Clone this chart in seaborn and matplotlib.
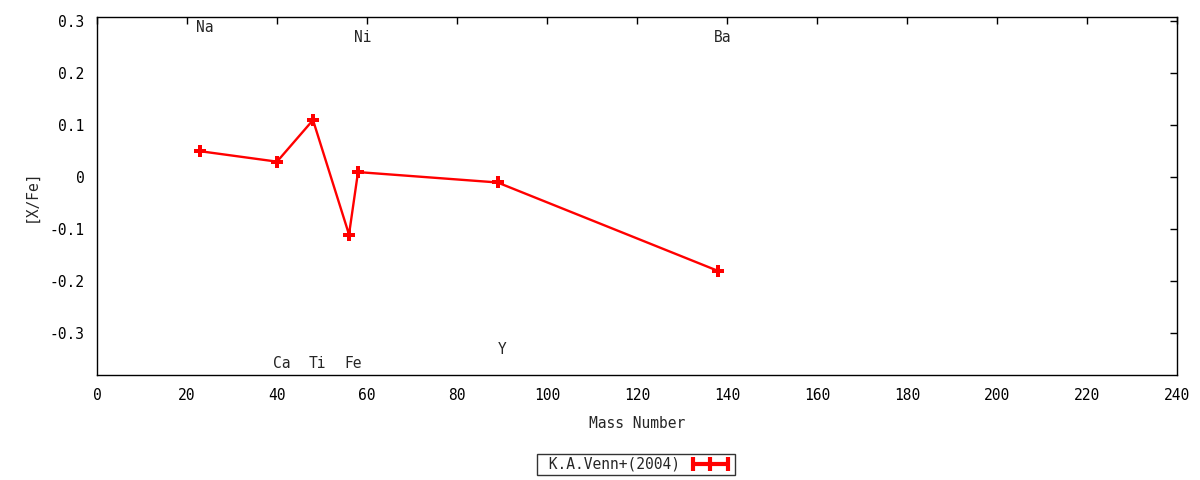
import pandas as pd
import matplotlib
matplotlib.use("Agg")
import matplotlib.pyplot as plt
import seaborn as sns
from matplotlib.lines import Line2D

# K.A.Venn+(2004) abundances
elements = ["Na", "Ca", "Ti", "Fe", "Ni", "Y", "Ba"]
mass_number = [23, 40, 48, 56, 58, 89, 138]
x_fe = [0.05, 0.03, 0.11, -0.11, 0.01, -0.01, -0.18]
label_y = [0.288, -0.358, -0.358, -0.358, 0.269, -0.331, 0.269]

df = pd.DataFrame({"element": elements, "mass": mass_number, "xfe": x_fe})

sns.set_style("white")
plt.rcParams["font.family"] = ["DejaVu Sans Mono", "DejaVu Sans"]
plt.rcParams["axes.unicode_minus"] = False

fig = plt.figure(figsize=(12, 4.8), dpi=100)
ax = fig.add_axes([0.0808, 0.21875, 0.9002, 0.7458])

sns.lineplot(data=df, x="mass", y="xfe", ax=ax, color="#ff0000", linewidth=1.7,
             marker="P", markersize=9, markeredgewidth=0, sort=False)

for el, m, ly in zip(elements, mass_number, label_y):
    ax.text(m + 1, ly, el, ha="center", va="center", fontsize=10.5)

ax.set_xlim(0, 240)
ax.set_ylim(-0.38, 0.308)
ax.set_xticks(range(0, 241, 20))
yt = [-0.3, -0.2, -0.1, 0, 0.1, 0.2, 0.3]
ax.set_yticks(yt)
ax.set_yticklabels(["0" if v == 0 else f"{v:.1f}" for v in yt])
ax.tick_params(direction="in", length=5, width=1, top=True, right=True,
               labelsize=10.5, pad=9, colors="black")
for s in ax.spines.values():
    s.set_linewidth(1)
    s.set_color("black")

ax.set_xlabel("Mass Number", fontsize=10.5, labelpad=10)
ax.set_ylabel("[X/Fe]", fontsize=10.5, labelpad=8)

handle = Line2D([], [], color="#ff0000", linewidth=3, marker="|",
                markersize=10, markeredgewidth=3)
fig.legend([handle], [" K.A.Venn+(2004)"], loc="center", bbox_to_anchor=(0.53, 0.033),
           numpoints=3, markerfirst=False, frameon=True, fancybox=False,
           edgecolor="black", fontsize=10.5, handlelength=3.0, borderpad=0.2,
           handletextpad=0.6, borderaxespad=0)
fig.legends[0].get_frame().set_linewidth(1)

fig.savefig("out.png", dpi=100)
